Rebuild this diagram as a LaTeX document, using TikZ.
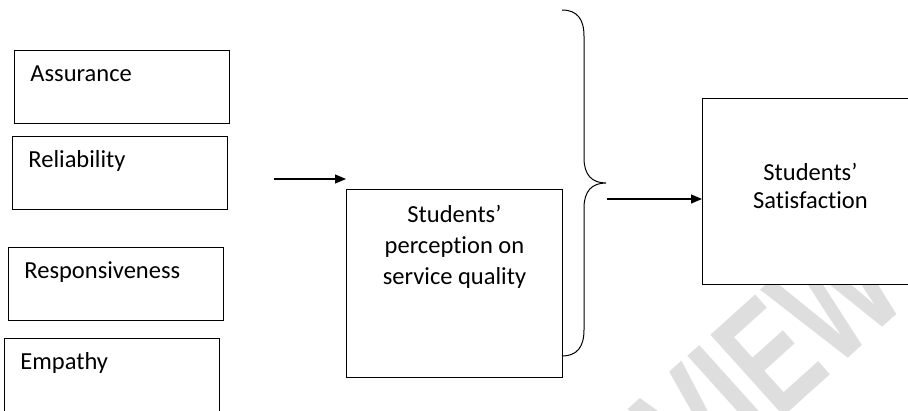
\documentclass[tikz,border=0pt]{standalone}
\usepackage{fontspec}
\setmainfont{Carlito}[Ligatures={TeX,NoCommon}]
\newfontfamily\wmfont{Liberation Sans}[FakeStretch=0.7]
\usetikzlibrary{arrows.meta}
\newcommand{\leftlbl}[1]{\parbox[c][73pt][t]{215pt}{\hspace*{16pt}\rule{0pt}{31.5pt}#1}}
\begin{document}
\begin{tikzpicture}[x=1pt,y=-1pt,
  box/.style={draw=black,fill=white,line width=0.9pt,inner sep=0pt,anchor=north west,font=\fontsize{24.5}{29}\selectfont},
  conn/.style={line width=1.1pt,-{Triangle[length=11pt,width=9pt]}},
  bracepath/.style={line width=1pt},
  wmark/.style={text=black!13,font=\wmfont\fontsize{159}{159}\selectfont\bfseries,rotate=42,inner sep=0pt,anchor=base west}]
\useasboundingbox (0,0) rectangle (908,411);
\clip (0,0) rectangle (908,411);
\fill[white] (0,0) rectangle (908,411);
\node[wmark] (wm) at (530,645) {PREVIEW};
\node[box] (assur) at (14,50) {\leftlbl{Assurance}};
\node[box] (relia) at (12,136) {\leftlbl{Reliability}};
\node[box] (respo) at (8,247) {\leftlbl{Responsiveness}};
\node[box] (empat) at (4,338) {\leftlbl{Empathy}};
\node[box] (perc) at (346,189) {\parbox[c][188pt][t]{216pt}{\centering\fontsize{24.5}{31}\selectfont\rule{0pt}{33pt}Students’\\perception on\\service quality}};
\node[box] (sat) at (702,98) {\parbox[c][186pt][t]{216pt}{\centering\fontsize{24.5}{28.3}\selectfont\rule{0pt}{82pt}Students’\\Satisfaction}};
\coordinate (a1s) at (274,179);
\coordinate (a1e) at (346,179);
\draw[conn] (a1s) -- (a1e);
\coordinate (bt) at (562,10);
\coordinate (bm) at (606,183);
\coordinate (bb) at (562,356);
\draw[bracepath] (bt) .. controls (577,10) and (584,19) .. (584,36) -- (584,158)
  .. controls (584,175) and (592,183) .. (bm)
  .. controls (592,183) and (584,191) .. (584,208) -- (584,330)
  .. controls (584,347) and (577,356) .. (bb);
\coordinate (a2s) at (607,199);
\draw[conn] (a2s) -- (a2s -| sat.west);
\end{tikzpicture}
\end{document}
